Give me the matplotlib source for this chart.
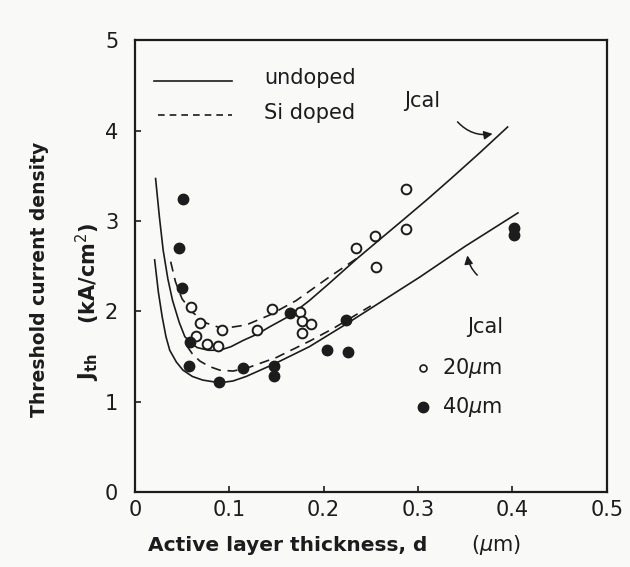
import numpy as np
import matplotlib
matplotlib.use('Agg')
import matplotlib.pyplot as plt
from matplotlib.patches import FancyArrowPatch

# measured points, 20 um stripe (open) and 40 um stripe (filled)
d20 = [0.060, 0.069, 0.065, 0.077, 0.088, 0.092, 0.129, 0.145, 0.175, 0.177, 0.187, 0.177,
       0.234, 0.254, 0.256, 0.287, 0.287]
j20 = [2.05, 1.87, 1.73, 1.64, 1.62, 1.79, 1.79, 2.03, 1.99, 1.89, 1.86, 1.76,
       2.70, 2.83, 2.49, 2.91, 3.35]
d40 = [0.051, 0.047, 0.050, 0.058, 0.057, 0.089, 0.115, 0.147, 0.148, 0.164, 0.204, 0.224,
       0.226, 0.402, 0.402]
j40 = [3.24, 2.70, 2.26, 1.66, 1.40, 1.22, 1.37, 1.40, 1.29, 1.98, 1.57, 1.91,
       1.55, 2.92, 2.84]

# calculated Jcal curves
d_up_solid = [0.022, 0.026, 0.030, 0.035, 0.040, 0.047, 0.053, 0.060, 0.066, 0.078, 0.090, 0.102,
              0.115, 0.130, 0.143, 0.164, 0.185, 0.206, 0.235, 0.260, 0.284, 0.310, 0.334,
              0.365, 0.395]
j_up_solid = [3.47, 3.05, 2.68, 2.36, 2.12, 1.88, 1.72, 1.65, 1.60, 1.57, 1.57, 1.61,
              1.68, 1.75, 1.83, 1.95, 2.12, 2.31, 2.58, 2.80, 3.01, 3.24, 3.46,
              3.75, 4.04]
d_up_dash = [0.038, 0.043, 0.050, 0.061, 0.076, 0.093, 0.118, 0.143, 0.171, 0.206, 0.240]
j_up_dash = [2.55, 2.33, 2.14, 1.99, 1.87, 1.81, 1.85, 1.96, 2.12, 2.38, 2.62]
d_lo_solid = [0.021, 0.025, 0.029, 0.033, 0.037, 0.044, 0.051, 0.061, 0.072, 0.090, 0.104,
              0.118, 0.148, 0.185, 0.224, 0.260, 0.302, 0.350, 0.406]
j_lo_solid = [2.57, 2.21, 1.94, 1.72, 1.57, 1.44, 1.35, 1.28, 1.24, 1.21, 1.23,
              1.28, 1.42, 1.61, 1.86, 2.10, 2.38, 2.72, 3.09]
d_lo_dash = [0.055, 0.061, 0.069, 0.079, 0.090, 0.104, 0.118, 0.150, 0.185, 0.210, 0.250]
j_lo_dash = [1.62, 1.53, 1.45, 1.39, 1.35, 1.34, 1.37, 1.49, 1.67, 1.81, 2.06]

xticks = [0, 0.1, 0.2, 0.3, 0.4, 0.5]
xticklabels = ['0', '0.1', '0.2', '0.3', '0.4', '0.5']
yticks = [0, 1, 2, 3, 4, 5]

ink = '#1c1c1c'
bg = '#f9f9f7'
plt.rcParams['font.family'] = ['DejaVu Sans']

fig = plt.figure(figsize=(6.3, 5.67), dpi=100, facecolor=bg)
ax = fig.add_axes([0.214, 0.132, 0.749, 0.797], facecolor=bg)

ax.plot(d_up_solid, j_up_solid, '-', color=ink, lw=1.2)
ax.plot(d_lo_solid, j_lo_solid, '-', color=ink, lw=1.2)
ax.plot(d_up_dash, j_up_dash, '--', color=ink, lw=1.2, dashes=(6, 4))
ax.plot(d_lo_dash, j_lo_dash, '--', color=ink, lw=1.2, dashes=(6, 4))

ax.plot(d20, j20, 'o', ms=7, mfc=bg, mec=ink, mew=1.4, zorder=5)
ax.plot(d40, j40, 'o', ms=7.5, mfc=ink, mec=ink, zorder=6)

ax.set_xlim(0, 0.5)
ax.set_ylim(0, 5)
ax.set_xticks(xticks)
ax.set_xticklabels(xticklabels)
ax.set_yticks(yticks)
ax.tick_params(direction='in', length=4, width=1.2, colors=ink, labelsize=15)
ax.tick_params(axis='x', pad=6)
ax.tick_params(axis='y', pad=12)
for s in ax.spines.values():
    s.set_linewidth(1.6)
    s.set_color(ink)

# legend drawn by hand
ax.plot([0.02, 0.103], [4.55, 4.55], '-', color=ink, lw=1.2)
ax.text(0.137, 4.58, 'undoped', fontsize=15, color=ink, va='center')
ax.plot([0.025, 0.103], [4.17, 4.17], '--', color=ink, lw=1.2, dashes=(4, 3))
ax.text(0.137, 4.2, 'Si doped', fontsize=15, color=ink, va='center')
ax.plot([0.305], [1.37], 'o', ms=5, mfc=bg, mec=ink, mew=1.2)
ax.text(0.325, 1.37, '20$\\mu$m', fontsize=15, color=ink, va='center')
ax.plot([0.305], [0.94], 'o', ms=7.5, mfc=ink, mec=ink)
ax.text(0.325, 0.94, '40$\\mu$m', fontsize=15, color=ink, va='center')

# Jcal annotations
ax.text(0.285, 4.33, 'Jcal', fontsize=15, color=ink, va='center')
ax.add_patch(FancyArrowPatch((0.34, 4.12), (0.382, 3.97), connectionstyle='arc3,rad=0.3',
                             arrowstyle='-|>,head_length=5,head_width=2.5', color=ink, lw=1.1))
ax.text(0.352, 1.83, 'Jcal', fontsize=15, color=ink, va='center')
ax.add_patch(FancyArrowPatch((0.365, 2.38), (0.352, 2.65), connectionstyle='arc3,rad=-0.2',
                             arrowstyle='-|>,head_length=5,head_width=2.5', color=ink, lw=1.1))

# axis titles
fig.text(0.235, 0.028, 'Active layer thickness, d', fontsize=14.5, fontweight='bold', color=ink)
fig.text(0.748, 0.028, '($\\mu$m)', fontsize=15, color=ink)
fig.text(0.063, 0.508, 'Threshold current density', fontsize=13.5, fontweight='bold', color=ink,
         rotation=90, ha='center', va='center')
fig.text(0.14, 0.352, '$\\mathbf{J_{th}}$', fontsize=15, color=ink, rotation=90, ha='center', va='center')
fig.text(0.14, 0.517, '(kA/cm$^2$)', fontsize=15, fontweight='bold', color=ink,
         rotation=90, ha='center', va='center')

fig.savefig('out.png', dpi=100, facecolor=bg)
